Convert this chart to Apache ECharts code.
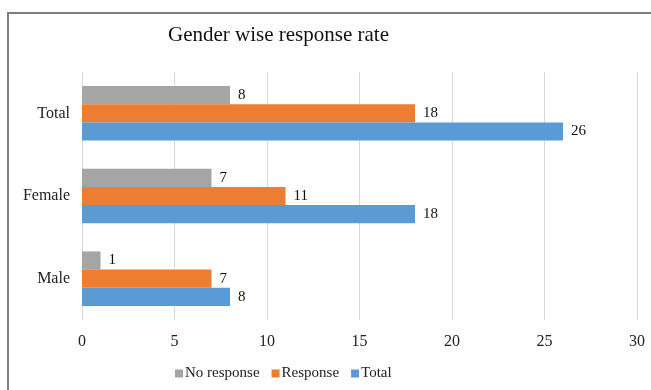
<!DOCTYPE html>
<html>
<head>
<meta charset="utf-8">
<script src="https://cdn.jsdelivr.net/npm/echarts@6/dist/echarts.min.js"></script>
<style>
  html, body { margin: 0; padding: 0; background: #fff; }
  #chart { width: 651px; height: 390px; }
</style>
</head>
<body>
<div id="chart"></div>
<script>
  var categories = ['Male', 'Female', 'Total'];
  var noResponse = [1, 7, 8];
  var response = [7, 11, 18];
  var total = [8, 18, 26];
  var xTicks = { min: 0, max: 30, interval: 5 };

  var font = 'Liberation Serif';
  var label = {
    show: true,
    position: 'right',
    color: '#111',
    fontFamily: font,
    fontSize: 15,
    distance: 8
  };

  var chart = echarts.init(document.getElementById('chart'));
  chart.setOption({
    animation: false,
    textStyle: { fontFamily: font },
    title: {
      text: 'Gender wise response rate',
      left: 163,
      top: 20,
      textStyle: { fontFamily: font, fontSize: 21, fontWeight: 'normal', color: '#111' }
    },
    graphic: [{
      type: 'rect',
      shape: { x: 8, y: 13, width: 700, height: 420 },
      style: { fill: null, stroke: '#7f7f7f', lineWidth: 2 },
      silent: true
    }],
    legend: {
      data: ['No response', 'Response', 'Total'],
      bottom: 4,
      left: 170,
      itemWidth: 8,
      itemHeight: 8,
      itemGap: 12,
      icon: 'rect',
      textStyle: { fontFamily: font, fontSize: 15, color: '#222', padding: [0, 0, 0, -3] }
    },
    grid: { left: 82, right: 14, top: 72, bottom: 70, containLabel: false },
    xAxis: {
      type: 'value',
      min: xTicks.min,
      max: xTicks.max,
      interval: xTicks.interval,
      axisLine: { show: false },
      axisTick: { show: false },
      splitLine: { lineStyle: { color: '#d9d9d9' } },
      axisLabel: { fontFamily: font, fontSize: 16, color: '#222', margin: 14 }
    },
    yAxis: {
      type: 'category',
      data: categories,
      axisLine: { lineStyle: { color: '#d9d9d9' } },
      axisTick: { show: false },
      axisLabel: { fontFamily: font, fontSize: 16, color: '#222', margin: 12 }
    },
    series: [
      { name: 'No response', type: 'bar', data: noResponse, itemStyle: { color: '#a5a5a5' },
        barGap: '0%', barCategoryGap: '34%', label: label },
      { name: 'Response', type: 'bar', data: response, itemStyle: { color: '#ed7d31' }, label: label },
      { name: 'Total', type: 'bar', data: total, itemStyle: { color: '#5b9bd5' }, label: label }
    ]
  });
</script>
</body>
</html>
